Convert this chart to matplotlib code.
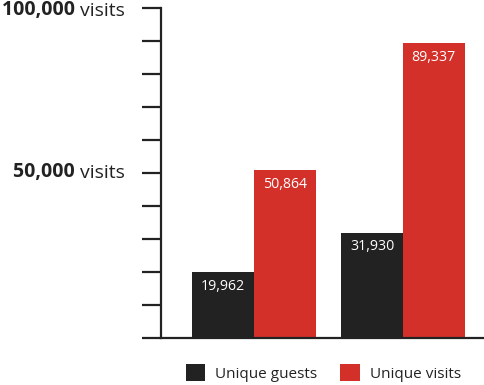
import numpy as np
import matplotlib.pyplot as plt
from matplotlib.patches import Patch
from matplotlib.transforms import blended_transform_factory

plt.rcParams['font.family'] = ['Open Sans', 'DejaVu Sans']

# data
groups = ['A', 'B']
series_names = ['Unique guests', 'Unique visits']
guests = [19962, 31930]
visits = [50864, 89337]
label_ticks = [100000, 50000]

dark = '#222222'
red = '#d4302a'

fig = plt.figure(figsize=(4.85, 3.85), dpi=100)
ax = fig.add_axes([161 / 485, 47 / 385, 324 / 485, 330 / 385])

x = np.arange(len(groups))
w = 0.413
b1 = ax.bar(x - w / 2, guests, w, color=dark, edgecolor='none')
b2 = ax.bar(x + w / 2, visits, w, color=red, edgecolor='none')

# value labels inside the bars, near the top
for bars, vals in [(b1, guests), (b2, visits)]:
    for rect, v in zip(bars, vals):
        ax.annotate(f'{v:,}', xy=(rect.get_x() + rect.get_width() / 2, v),
                    xytext=(0, -14), textcoords='offset pixels',
                    ha='center', va='center', color='white', fontsize=10.2)

ax.set_xlim(-0.624, 1.55)
ax.set_ylim(0, 100000)
ax.set_yticks(np.arange(0, 100001, 10000))
ax.set_yticklabels([])
ax.set_xticks([])
ax.tick_params(axis='y', length=13.5, width=1.6, color=dark, direction='out')
for s in ['top', 'right']:
    ax.spines[s].set_visible(False)
for s in ['left', 'bottom']:
    ax.spines[s].set_linewidth(1.6)
    ax.spines[s].set_color(dark)
ax.spines['left'].set_bounds(0, 100000)

# y labels: bold number + regular "visits"
tr = blended_transform_factory(fig.transFigure, ax.transData)
for v, dy in zip(label_ticks, [-8, -5]):
    t = ax.annotate('visits', xy=(125 / 485, v), xycoords=tr, xytext=(0, dy),
                    textcoords='offset pixels', ha='right', va='baseline',
                    fontsize=14, color=dark)
    ax.annotate(f'{v:,} ', xy=(0, 0), xycoords=t, ha='right', va='bottom',
                fontsize=14, fontweight='bold', color=dark)

handles = [Patch(facecolor=dark), Patch(facecolor=red)]
fig.legend(handles, series_names, loc='center', bbox_to_anchor=(0.667, 0.031),
           ncol=2, frameon=False, fontsize=11, handlelength=1.25, handleheight=1.3,
           handletextpad=0.7, columnspacing=1.5, labelcolor=dark)

fig.savefig('out.png', dpi=100)
